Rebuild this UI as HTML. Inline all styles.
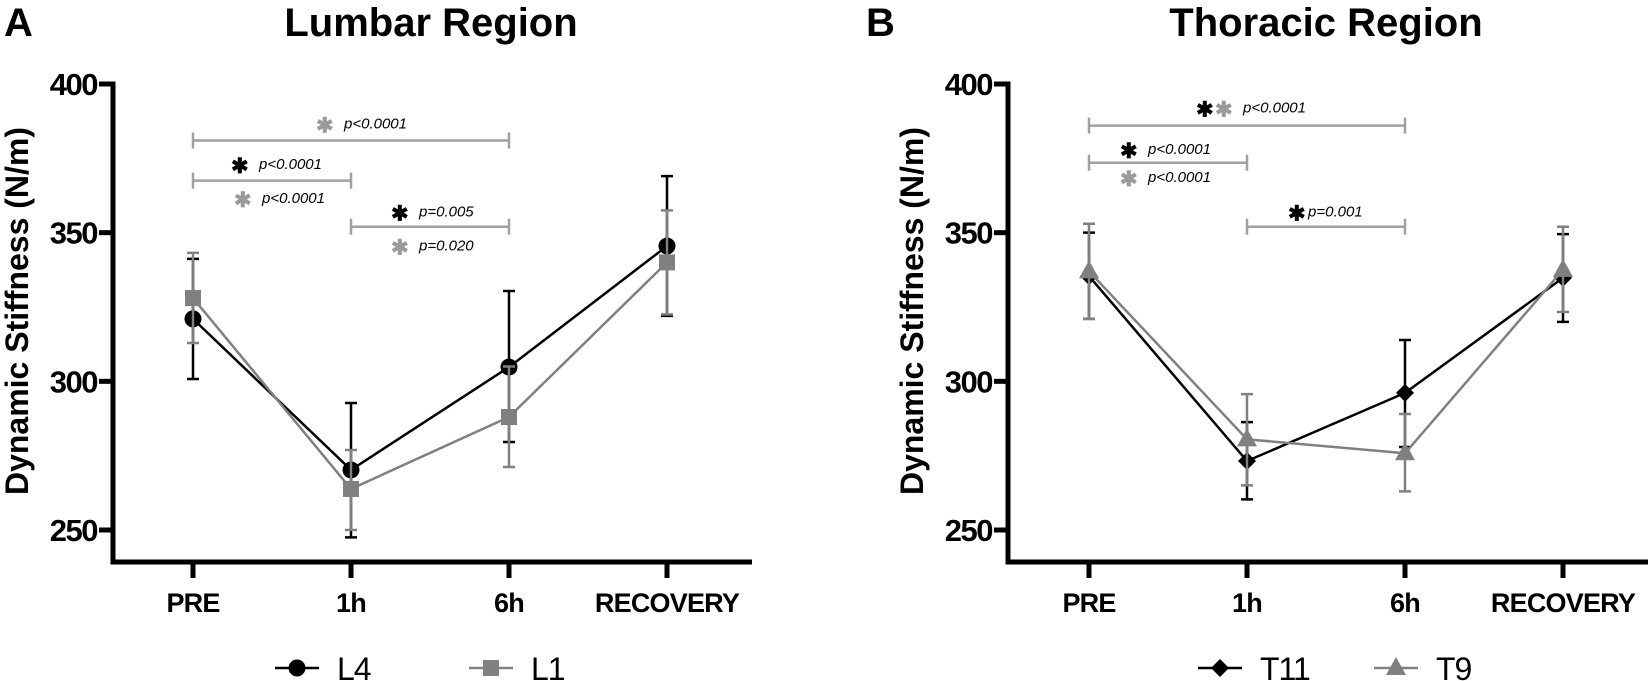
<!DOCTYPE html>
<html><head><meta charset="utf-8"><style>
body{margin:0;background:#fff;}
svg{display:block;font-family:"Liberation Sans",Arial,sans-serif;}
</style></head><body>
<svg id="chart" width="1650" height="681" viewBox="0 0 1650 681" xmlns="http://www.w3.org/2000/svg"></svg>
<script>
const categories = ["PRE","1h","6h","RECOVERY"];
const yTicks = [250,300,350,400];
const L4 = [321.0,270.2,304.8,345.5];
const L4lo = [300.8,247.5,279.6,322.0];
const L4hi = [341.2,292.7,330.4,369.0];
const L1 = [328.0,263.8,288.0,340.0];
const L1lo = [312.9,250.0,271.2,322.5];
const L1hi = [343.2,276.9,305.0,357.5];
const T11 = [335.4,273.2,296.1,334.8];
const T11lo = [321.0,260.3,277.9,320.0];
const T11hi = [350.0,286.3,313.9,349.5];
const T9 = [337.0,280.5,275.8,337.5];
const T9lo = [321.0,265.0,263.0,323.3];
const T9hi = [353.0,295.7,289.0,352.0];

const NS="http://www.w3.org/2000/svg";
const svg=document.getElementById('chart');
function mk(tag,attrs,parent,text){const e=document.createElementNS(NS,tag);for(const k in attrs)e.setAttribute(k,attrs[k]);if(text!==undefined)e.textContent=text;(parent||svg).appendChild(e);return e;}

const yTop=84,yBot=530,vMin=250,vMax=400,axisY=562;
function yS(v){return yBot-(v-vMin)/(vMax-vMin)*(yBot-yTop);}

function panel(p){
  const g=mk('g',{});
  
  
  const xS=i=>p.x0+i*p.dx;
  let t=mk('text',{x:p.letterX,y:36,'font-size':40,'font-weight':'bold'},g,p.letter);
  
  
  t=mk('text',{x:p.titleX,y:36,'font-size':40,'font-weight':'bold','text-anchor':'middle'},g,p.title);
  
  
  t=mk('text',{x:0,y:0,'font-size':32,'font-weight':'bold','text-anchor':'middle',transform:`translate(${p.axisX-85},${(yTop+axisY)/2-12}) rotate(-90)`},g,'Dynamic Stiffness (N/m)');
  
  
  let a=mk('path',{d:`M${p.axisX},${yTop-2.5} V${axisY} H${p.axisEnd}`,stroke:'#000','stroke-width':5,fill:'none'},g);
  
  
  yTicks.forEach(v=>{
    const y=yS(v);
    const tk=mk('line',{x1:p.axisX-14,x2:p.axisX,y1:y,y2:y,stroke:'#000','stroke-width':5},g);
    
    
    const tl=mk('text',{x:p.axisX-16,y:y+11,'font-size':31,'font-weight':'bold','text-anchor':'end','letter-spacing':'-1.5'},g,String(v));
    
    
  });
  categories.forEach((c,i)=>{
    const x=xS(i);
    const tk=mk('line',{x1:x,x2:x,y1:axisY,y2:axisY+16,stroke:'#000','stroke-width':5},g);
    
    
    const tl=mk('text',{x:x,y:612,'font-size':27,'font-weight':'bold','text-anchor':'middle','letter-spacing':'-0.8'},g,c);
    
    
  });
  p.brackets.forEach(b=>{
    const y=yS(b.v),x1=xS(b.from),x2=xS(b.to);
    const br=mk('path',{d:`M${x1},${y-8}V${y+8}M${x1},${y}H${x2}M${x2},${y-8}V${y+8}`,stroke:'#a0a0a0','stroke-width':2.5,fill:'none'},g);
    
    
  });
  p.labels.forEach(l=>{
    const y=yS(l.v);
    let x=l.x;
    l.stars.forEach(col=>{
      const s=mk('text',{x:x,y:y+10,'font-size':21,'font-weight':'bold',fill:col},g,'✱');
      
      
      x+=19;
    });
    const pt=mk('text',{x:x+(l.gap!==undefined?l.gap:9),y:y+6,'font-size':15,'font-style':'italic'},g,l.text);
    
    
  });
  p.series.forEach(s=>{
    const sg=mk('g',{},g);
    
    
    s.vals.forEach((v,i)=>{
      const x=xS(i);
      const e=mk('path',{d:`M${x},${yS(s.lo[i])}V${yS(s.hi[i])}M${x-6},${yS(s.lo[i])}H${x+6}M${x-6},${yS(s.hi[i])}H${x+6}`,stroke:s.color,'stroke-width':2.5,fill:'none'},sg);
      
      
    });
    const pl=mk('polyline',{points:s.vals.map((v,i)=>xS(i)+','+yS(v)).join(' '),stroke:s.color,'stroke-width':2.5,fill:'none'},sg);
    
    
    s.vals.forEach((v,i)=>{
      const m=marker(sg,s.shape,xS(i),yS(v),s.color);
      
      
    });
    const lg=mk('g',{},g);
    
    
    mk('line',{x1:s.lx-22,x2:s.lx+22,y1:668,y2:668,stroke:s.color,'stroke-width':2.5},lg);
    marker(lg,s.shape,s.lx,668,s.color);
    mk('text',{x:s.lx+40,y:680,'font-size':32,'letter-spacing':'-1'},lg,s.label);
  });
}
function marker(parent,shape,x,y,c){
  if(shape==='circle')return mk('circle',{cx:x,cy:y,r:8.5,fill:c},parent);
  if(shape==='square')return mk('rect',{x:x-8,y:y-8,width:16,height:16,fill:c},parent);
  if(shape==='diamond')return mk('path',{d:`M${x},${y-9}L${x+9},${y}L${x},${y+9}L${x-9},${y}Z`,fill:c},parent);
  return mk('path',{d:`M${x},${y-11}L${x+10},${y+7}L${x-10},${y+7}Z`,fill:c},parent);
}
const BLK='#000',GRY='#9a9a9a';
panel({name:'lumbar-panel',letter:'A',letterX:4,title:'Lumbar Region',titleX:431,axisX:113,axisEnd:752,x0:193,dx:158,
  brackets:[{v:381,from:0,to:2},{v:367.5,from:0,to:1},{v:352,from:1,to:2}],
  labels:[{v:387,x:316,stars:[GRY],text:'p<0.0001'},{v:373.5,x:231,stars:[BLK],text:'p<0.0001'},{v:362,x:234,stars:[GRY],text:'p<0.0001'},
          {v:357.5,x:391,stars:[BLK],text:'p=0.005'},{v:346,x:391,stars:[GRY],text:'p=0.020'}],
  series:[{label:'L4',vals:L4,lo:L4lo,hi:L4hi,color:'#000',shape:'circle',lx:297},
          {label:'L1',vals:L1,lo:L1lo,hi:L1hi,color:'#808080',shape:'square',lx:491}]});
panel({name:'thoracic-panel',letter:'B',letterX:866,title:'Thoracic Region',titleX:1326,axisX:1008,axisEnd:1648,x0:1089,dx:158,
  brackets:[{v:386,from:0,to:2},{v:373.5,from:0,to:1},{v:352,from:1,to:2}],
  labels:[{v:392.5,x:1196,stars:[BLK,GRY],text:'p<0.0001'},{v:378.5,x:1120,stars:[BLK],text:'p<0.0001'},{v:369,x:1120,stars:[GRY],text:'p<0.0001'},
          {v:357.5,x:1288,stars:[BLK],text:'p=0.001',gap:1}],
  series:[{label:'T11',vals:T11,lo:T11lo,hi:T11hi,color:'#000',shape:'diamond',lx:1220},
          {label:'T9',vals:T9,lo:T9lo,hi:T9hi,color:'#808080',shape:'triangle',lx:1396}]});
</script>
</body></html>
